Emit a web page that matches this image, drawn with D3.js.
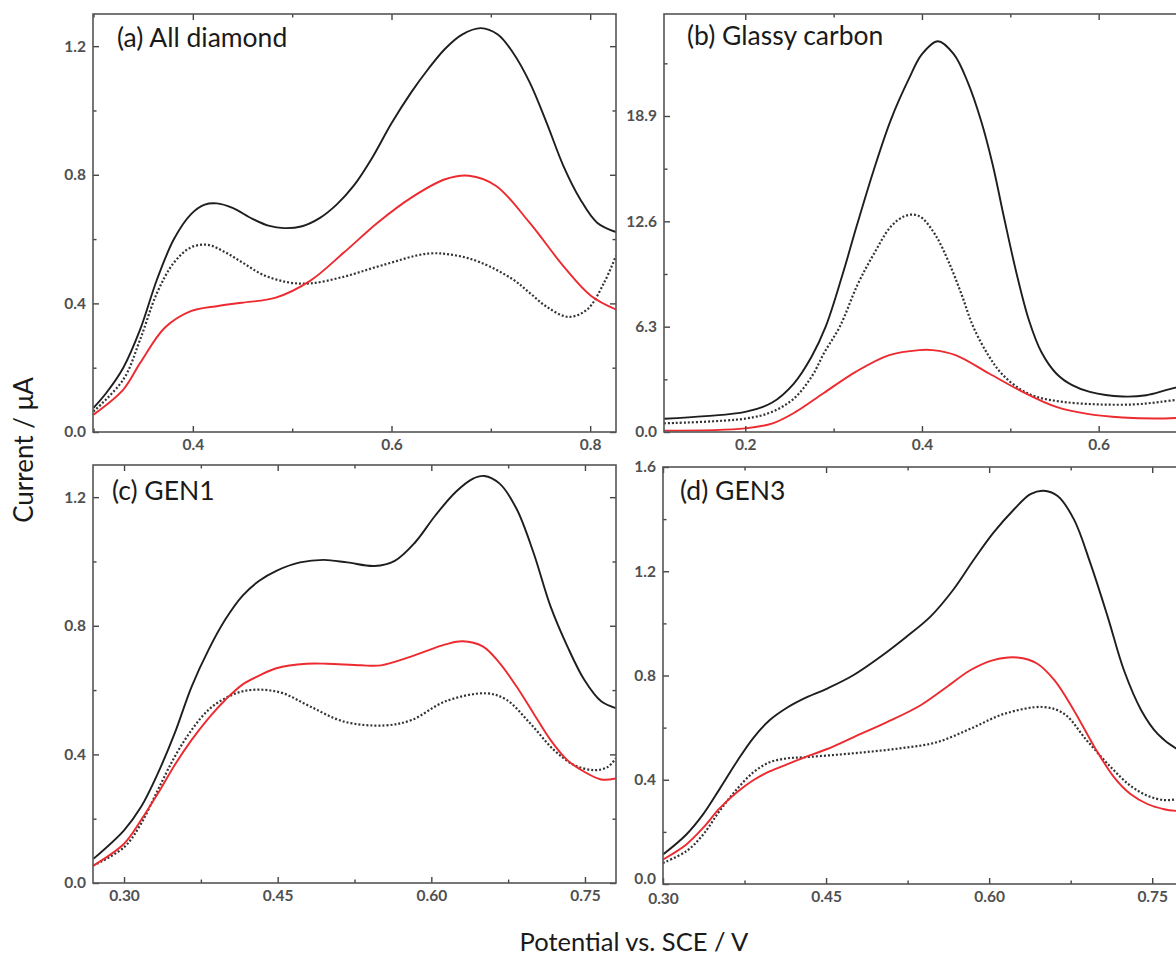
<!DOCTYPE html>
<html>
<head>
<meta charset="utf-8">
<script src="https://cdn.jsdelivr.net/npm/d3@7"></script>
<style>
    body { margin: 0; background: #fff; }
    svg { display: block; }
    .tick text { font-family: Lato, "Open Sans", sans-serif; font-size: 15.5px; font-weight: 700; fill: #505050; }
    .tick line { stroke: #444; stroke-width: 1.4; }
    .domain { display: none; }
</style>
</head>
<body>
<svg id="chart" width="1176" height="958"></svg>
<script>
    "use strict";

    // (a) All diamond  -- [potential V, current uA]
    var aBlack = [[0.300,0.075],[0.313,0.122],[0.330,0.200],[0.347,0.319],[0.364,0.475],[0.381,0.600],[0.398,0.677],[0.412,0.707],[0.424,0.711],[0.440,0.697],[0.460,0.663],[0.476,0.642],[0.492,0.634],[0.510,0.640],[0.528,0.666],[0.545,0.708],[0.562,0.766],[0.580,0.850],[0.600,0.960],[0.620,1.057],[0.637,1.129],[0.654,1.192],[0.671,1.236],[0.690,1.256],[0.707,1.236],[0.722,1.181],[0.739,1.088],[0.756,0.963],[0.773,0.828],[0.790,0.724],[0.807,0.651],[0.826,0.622]];
    var aDot = [[0.300,0.064],[0.330,0.163],[0.347,0.288],[0.364,0.433],[0.381,0.527],[0.398,0.574],[0.415,0.582],[0.432,0.560],[0.450,0.527],[0.470,0.490],[0.495,0.466],[0.518,0.462],[0.552,0.483],[0.590,0.518],[0.637,0.555],[0.665,0.549],[0.690,0.527],[0.722,0.475],[0.739,0.433],[0.756,0.390],[0.778,0.358],[0.797,0.381],[0.814,0.464],[0.826,0.548]];
    var aRed = [[0.300,0.054],[0.330,0.132],[0.347,0.215],[0.372,0.325],[0.398,0.376],[0.4255,0.392],[0.449,0.402],[0.4835,0.418],[0.518,0.470],[0.552,0.558],[0.586,0.651],[0.620,0.729],[0.654,0.786],[0.678,0.797],[0.705,0.766],[0.739,0.651],[0.773,0.516],[0.801,0.423],[0.826,0.381]];

    // (b) Glassy carbon
    var bBlack = [[0.108,0.79],[0.155,0.95],[0.200,1.20],[0.230,1.75],[0.255,2.90],[0.275,4.50],[0.291,6.30],[0.310,9.40],[0.326,12.30],[0.345,15.60],[0.365,18.70],[0.385,21.10],[0.400,22.60],[0.418,23.37],[0.436,22.60],[0.452,20.90],[0.467,18.60],[0.480,16.00],[0.493,12.80],[0.507,9.50],[0.521,6.70],[0.535,4.80],[0.552,3.50],[0.570,2.80],[0.590,2.40],[0.627,2.12],[0.654,2.20],[0.676,2.50],[0.700,2.85]];
    var bDot = [[0.108,0.52],[0.200,0.80],[0.230,1.20],[0.255,2.00],[0.275,3.30],[0.290,4.80],[0.307,6.30],[0.327,8.80],[0.345,10.60],[0.365,12.30],[0.380,12.90],[0.391,13.00],[0.400,12.80],[0.415,11.80],[0.430,10.20],[0.445,8.20],[0.458,6.30],[0.475,4.60],[0.490,3.50],[0.510,2.60],[0.530,2.10],[0.560,1.80],[0.600,1.65],[0.640,1.65],[0.670,1.80],[0.700,2.00]];
    var bRed = [[0.108,0.08],[0.200,0.22],[0.231,0.52],[0.257,1.20],[0.288,2.30],[0.325,3.60],[0.363,4.60],[0.397,4.90],[0.412,4.90],[0.438,4.60],[0.476,3.50],[0.514,2.40],[0.552,1.50],[0.589,1.07],[0.627,0.87],[0.665,0.81],[0.700,0.87]];

    // (c) GEN1
    var cBlack = [[0.270,0.075],[0.300,0.164],[0.3165,0.236],[0.333,0.341],[0.3495,0.466],[0.366,0.611],[0.3826,0.726],[0.399,0.820],[0.4156,0.893],[0.432,0.940],[0.4487,0.971],[0.4718,0.997],[0.4949,1.005],[0.518,0.997],[0.5445,0.986],[0.5643,1.002],[0.5841,1.059],[0.6039,1.143],[0.6238,1.216],[0.6403,1.257],[0.6518,1.266],[0.6667,1.242],[0.6832,1.164],[0.6997,1.028],[0.7163,0.861],[0.7328,0.736],[0.7493,0.632],[0.7658,0.565],[0.780,0.544]];
    var cDot = [[0.270,0.054],[0.300,0.111],[0.3165,0.184],[0.333,0.289],[0.3495,0.393],[0.366,0.476],[0.3826,0.539],[0.399,0.575],[0.4156,0.596],[0.4355,0.601],[0.4553,0.590],[0.4817,0.549],[0.5147,0.502],[0.5544,0.490],[0.5808,0.507],[0.6138,0.565],[0.6535,0.590],[0.6733,0.570],[0.6964,0.497],[0.7196,0.414],[0.7394,0.367],[0.7592,0.351],[0.7724,0.361],[0.780,0.388]];
    var cRed = [[0.270,0.054],[0.300,0.122],[0.3165,0.195],[0.333,0.278],[0.3495,0.367],[0.366,0.445],[0.3826,0.513],[0.399,0.570],[0.4156,0.617],[0.432,0.645],[0.4487,0.668],[0.4784,0.682],[0.4982,0.682],[0.5313,0.677],[0.551,0.677],[0.5808,0.705],[0.6138,0.742],[0.6304,0.752],[0.6502,0.736],[0.6667,0.684],[0.6832,0.611],[0.6997,0.528],[0.7163,0.445],[0.7328,0.382],[0.7493,0.346],[0.7658,0.322],[0.780,0.325]];

    // (d) GEN3
    var dBlack = [[0.300,0.113],[0.3215,0.190],[0.337,0.268],[0.352,0.364],[0.368,0.470],[0.383,0.560],[0.398,0.628],[0.414,0.676],[0.429,0.710],[0.451,0.750],[0.475,0.801],[0.500,0.872],[0.524,0.949],[0.546,1.026],[0.567,1.129],[0.586,1.245],[0.604,1.348],[0.623,1.438],[0.638,1.496],[0.650,1.509],[0.663,1.489],[0.678,1.399],[0.693,1.232],[0.709,1.026],[0.724,0.820],[0.740,0.666],[0.755,0.576],[0.773,0.518],[0.782,0.505]];
    var dDot = [[0.300,0.081],[0.3215,0.126],[0.337,0.190],[0.352,0.280],[0.368,0.364],[0.383,0.428],[0.398,0.467],[0.414,0.482],[0.429,0.486],[0.460,0.496],[0.491,0.508],[0.521,0.522],[0.552,0.544],[0.583,0.596],[0.614,0.653],[0.650,0.679],[0.669,0.653],[0.690,0.550],[0.712,0.448],[0.730,0.377],[0.746,0.338],[0.761,0.322],[0.773,0.325],[0.782,0.330]];
    var dRed = [[0.300,0.094],[0.3215,0.152],[0.337,0.216],[0.352,0.290],[0.368,0.352],[0.383,0.398],[0.398,0.432],[0.414,0.459],[0.429,0.484],[0.451,0.518],[0.475,0.563],[0.506,0.621],[0.537,0.686],[0.561,0.756],[0.583,0.821],[0.604,0.859],[0.626,0.869],[0.644,0.846],[0.660,0.782],[0.678,0.666],[0.697,0.525],[0.715,0.409],[0.730,0.345],[0.746,0.306],[0.761,0.287],[0.773,0.280],[0.782,0.278]];

    // tick values
    var aXTicks = [0.4, 0.6, 0.8], aXMinor = [0.3, 0.5, 0.7];
    var bXTicks = [0.2, 0.4, 0.6], bXMinor = [0.3, 0.5];
    var cdXTicks = [0.30, 0.45, 0.60, 0.75], cdXMinor = [0.375, 0.525, 0.675];
    var acYTicks = [0, 0.4, 0.8, 1.2], acYMinor = [0.2, 0.6, 1.0];
    var bYTicks = [0, 6.3, 12.6, 18.9], bYMinor = [3.15, 9.45, 15.75, 22.05];
    var dYTicks = [0, 0.4, 0.8, 1.2, 1.6], dYMinor = [0.2, 0.6, 1.0, 1.4];

    var titles = ["(a) All diamond", "(b) Glassy carbon", "(c) GEN1", "(d) GEN3"];

    var panels = [
        { id: "a", title: titles[0], box: [93, 616, 14, 432], xd: [0.2995, 0.826], yd: [0, 1.3],
          xt: aXTicks, xm: aXMinor, xf: ".1f", yt: acYTicks, ym: acYMinor, tpos: [117, 47],
          series: [aBlack, aDot, aRed] },
        { id: "b", title: titles[1], box: [664, 1187, 14, 432], xd: [0.108, 0.700], yd: [0, 25],
          xt: bXTicks, xm: bXMinor, xf: ".1f", yt: bYTicks, ym: bYMinor, tpos: [687, 45],
          series: [bBlack, bDot, bRed] },
        { id: "c", title: titles[2], box: [93, 616, 465, 883], xd: [0.2697, 0.7803], yd: [0, 1.3],
          xt: cdXTicks, xm: cdXMinor, xf: ".2f", yt: acYTicks, ym: acYMinor, tpos: [112, 500],
          series: [cBlack, cDot, cRed] },
        { id: "d", title: titles[3], box: [663, 1187, 467, 884], xd: [0.30, 0.782], yd: [0, 1.6],
          xt: cdXTicks, xm: cdXMinor, xf: ".2f", yt: dYTicks, ym: dYMinor, tpos: [680, 500],
          series: [dBlack, dDot, dRed], cornerShift: true }
    ];

    var styles = [
        { stroke: "#1e1e1e", width: 1.9, dash: null },
        { stroke: "#333", width: 2.2, dash: "2,2" },
        { stroke: "#ec2a2f", width: 1.9, dash: null }
    ];

    var svg = d3.select("#chart");
    var defs = svg.append("defs");

    panels.forEach(function(p) {
        var x0 = p.box[0], x1 = p.box[1], y0 = p.box[2], y1 = p.box[3];
        var x = d3.scaleLinear().domain(p.xd).range([x0, x1]);
        var y = d3.scaleLinear().domain(p.yd).range([y1, y0]);
        var g = svg.append("g").attr("class", "panel " + p.id);

        defs.append("clipPath").attr("id", "clip-" + p.id)
            .append("rect").attr("x", x0).attr("y", y0).attr("width", x1 - x0).attr("height", y1 - y0);

        var line = d3.line()
            .x(function(d) { return x(d[0]); })
            .y(function(d) { return y(d[1]); })
            .curve(d3.curveCatmullRom.alpha(0.5));

        var lines = g.append("g").attr("clip-path", "url(#clip-" + p.id + ")");
        p.series.forEach(function(s, i) {
            lines.append("path")
                .attr("d", line(s))
                .attr("fill", "none")
                .attr("stroke", styles[i].stroke)
                .attr("stroke-width", styles[i].width)
                .attr("stroke-dasharray", styles[i].dash);
        });

        // axes, ticks point inward and are mirrored on top/right
        var xAxis = g.append("g").attr("transform", "translate(0," + y1 + ")")
            .call(d3.axisBottom(x).tickValues(p.xt).tickSize(-6).tickPadding(7).tickFormat(d3.format(p.xf)));
        g.append("g").attr("transform", "translate(0," + y1 + ")")
            .call(d3.axisBottom(x).tickValues(p.xm).tickSize(-3.5).tickFormat(""));
        g.append("g").attr("transform", "translate(0," + y0 + ")")
            .call(d3.axisTop(x).tickValues(p.xt).tickSize(-6).tickFormat(""));
        g.append("g").attr("transform", "translate(0," + y0 + ")")
            .call(d3.axisTop(x).tickValues(p.xm).tickSize(-3.5).tickFormat(""));
        var yAxis = g.append("g").attr("transform", "translate(" + x0 + ",0)")
            .call(d3.axisLeft(y).tickValues(p.yt).tickSize(-6).tickPadding(7).tickFormat(d3.format(".1f")));
        g.append("g").attr("transform", "translate(" + x0 + ",0)")
            .call(d3.axisLeft(y).tickValues(p.ym).tickSize(-3.5).tickFormat(""));
        g.append("g").attr("transform", "translate(" + x1 + ",0)")
            .call(d3.axisRight(y).tickValues(p.yt).tickSize(-6).tickFormat(""));
        g.append("g").attr("transform", "translate(" + x1 + ",0)")
            .call(d3.axisRight(y).tickValues(p.ym).tickSize(-3.5).tickFormat(""));

        // corner labels of (d) sit close together; nudge them apart
        if (p.cornerShift) {
            yAxis.selectAll(".tick text").filter(function(d) { return d === 0; })
                .attr("transform", "translate(0,-5)");
            xAxis.selectAll(".tick text").filter(function(d) { return d === 0.30; })
                .attr("transform", "translate(0,2)");
        }

        g.append("rect")
            .attr("x", x0).attr("y", y0)
            .attr("width", x1 - x0).attr("height", y1 - y0)
            .attr("fill", "none").attr("stroke", "#555").attr("stroke-width", 1.6);

        g.append("text")
            .attr("x", p.tpos[0]).attr("y", p.tpos[1])
            .attr("font-family", "Lato, 'Open Sans', sans-serif")
            .attr("font-size", 26.5)
            .attr("fill", "#1a1a1a")
            .text(p.title);
    });

    svg.append("text")
        .attr("transform", "translate(33,450) rotate(-90)")
        .attr("text-anchor", "middle")
        .attr("font-family", "Lato, 'Open Sans', sans-serif")
        .attr("font-size", 26)
        .attr("fill", "#1a1a1a")
        .text("Current / \u03bcA");

    svg.append("text")
        .attr("x", 634).attr("y", 951)
        .attr("text-anchor", "middle")
        .attr("font-family", "Lato, 'Open Sans', sans-serif")
        .attr("font-size", 25.5)
        .attr("fill", "#1a1a1a")
        .text("Potential vs. SCE / V");
</script>
</body>
</html>
